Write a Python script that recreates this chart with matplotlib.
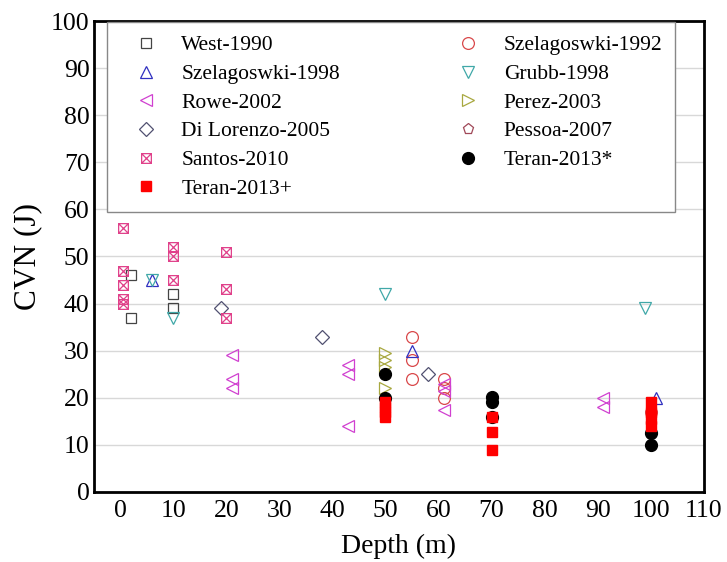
import matplotlib
matplotlib.use("Agg")
import matplotlib.pyplot as plt
from matplotlib.path import Path

plt.rcParams['font.family'] = ['Liberation Serif', 'DejaVu Serif']

# ---- data (depth m, CVN J) ----
west_1990_x = [2, 2, 10, 10]
west_1990_y = [46, 37, 42, 39]

szel_1992_x = [55, 55, 55, 61, 61, 61, 100]
szel_1992_y = [33, 28, 24, 24, 22, 20, 17]

szel_1998_x = [6, 55, 101]
szel_1998_y = [45, 30, 20]

grubb_1998_x = [6, 10, 50, 99]
grubb_1998_y = [45, 37, 42, 39]

rowe_2002_x = [21, 21, 21, 43, 43, 43, 61, 61, 61, 91, 91]
rowe_2002_y = [29, 24, 22, 27, 25, 14, 23, 21.5, 17.5, 20, 18]

perez_2003_x = [50, 50, 50, 50]
perez_2003_y = [29.5, 28, 26.5, 22]

dilorenzo_2005_x = [19, 38, 58]
dilorenzo_2005_y = [39, 33, 25]

pessoa_2007_x = [100]
pessoa_2007_y = [17.5]

santos_2010_x = [0.5, 0.5, 0.5, 0.5, 0.5, 10, 10, 10, 20, 20, 20]
santos_2010_y = [56, 47, 44, 41, 40, 52, 50, 45, 51, 43, 37]

teran_star_x = [50, 50, 70, 70, 70, 100, 100]
teran_star_y = [25, 20, 20.2, 19, 16, 12.5, 10]

teran_plus_x = [50, 50, 50, 50, 70, 70, 70, 100, 100, 100, 100]
teran_plus_y = [19, 18, 17, 16, 16, 12.8, 9, 19, 17, 15.5, 14]

x_ticks = [0, 10, 20, 30, 40, 50, 60, 70, 80, 90, 100, 110]
y_ticks = [0, 10, 20, 30, 40, 50, 60, 70, 80, 90, 100]

# square with an X
boxx = Path([(-1, -1), (1, -1), (1, 1), (-1, 1), (-1, -1),
             (-1, -1), (1, 1), (-1, 1), (1, -1)],
            [Path.MOVETO, Path.LINETO, Path.LINETO, Path.LINETO, Path.CLOSEPOLY,
             Path.MOVETO, Path.LINETO, Path.MOVETO, Path.LINETO])

fig = plt.figure(figsize=(7.27, 5.62), dpi=100)
ax = fig.add_axes([0.129, 0.1246, 0.839, 0.838])

def op(x, y, m, c, label, ms=8, z=3):
    ax.plot(x, y, linestyle='none', marker=m, markersize=ms, markerfacecolor='none',
            markeredgecolor=c, markeredgewidth=0.9, label=label, zorder=z)

op(west_1990_x, west_1990_y, 's', '#444444', 'West-1990', ms=7.5)
op(szel_1992_x, szel_1992_y, 'o', '#d9484a', 'Szelagoswki-1992', ms=8.5)
op(szel_1998_x, szel_1998_y, '^', '#3030c0', 'Szelagoswki-1998', ms=9)
op(grubb_1998_x, grubb_1998_y, 'v', '#40a8a8', 'Grubb-1998', ms=9)
op(rowe_2002_x, rowe_2002_y, '<', '#d040d0', 'Rowe-2002', ms=9)
op(perez_2003_x, perez_2003_y, '>', '#a8a840', 'Perez-2003', ms=9)
op(dilorenzo_2005_x, dilorenzo_2005_y, 'D', '#505070', 'Di Lorenzo-2005', ms=7)
op(pessoa_2007_x, pessoa_2007_y, 'p', '#a04858', 'Pessoa-2007', ms=8)
op(santos_2010_x, santos_2010_y, boxx, '#e0408a', 'Santos-2010', ms=7)
ax.plot(teran_star_x, teran_star_y, linestyle='none', marker='o', markersize=8.5,
        color='black', label='Teran-2013*', zorder=4)
ax.plot(teran_plus_x, teran_plus_y, linestyle='none', marker='s', markersize=7,
        color='#ff0000', label='Teran-2013+', zorder=5)

ax.set_xlim(-5, 110)
ax.set_ylim(0, 100)
ax.set_xticks(x_ticks)
ax.set_yticks(y_ticks)
ax.tick_params(labelsize=18.5, length=0)
ax.tick_params(axis='y', pad=3)
ax.tick_params(axis='x', pad=6)
ax.yaxis.grid(True, color='#d8d8d8', linewidth=1)
ax.set_axisbelow(True)
for s in ax.spines.values():
    s.set_linewidth(2)
    s.set_color('black')

ax.set_xlabel('Depth (m)', fontsize=20, labelpad=8)
ax.set_ylabel('CVN (J)', fontsize=22.5, labelpad=6)

handles, labels = ax.get_legend_handles_labels()
order = ['West-1990', 'Szelagoswki-1992', 'Szelagoswki-1998', 'Grubb-1998',
         'Rowe-2002', 'Perez-2003', 'Di Lorenzo-2005', 'Pessoa-2007',
         'Santos-2010', 'Teran-2013*', 'Teran-2013+']
hmap = dict(zip(labels, handles))
left = order[0::2]
right = order[1::2]
seq = left + right
leg = ax.legend([hmap[l] for l in seq], seq, ncol=2, loc='upper left',
                bbox_to_anchor=(0.022, 0.997), borderaxespad=0,
                fontsize=15.5, frameon=True, fancybox=False,
                edgecolor='#888888', framealpha=1, borderpad=0.6, labelspacing=0.4,
                columnspacing=4.75, handletextpad=0.45, handlelength=2.4)
leg.get_frame().set_linewidth(1)

fig.savefig('out.png', dpi=100)
